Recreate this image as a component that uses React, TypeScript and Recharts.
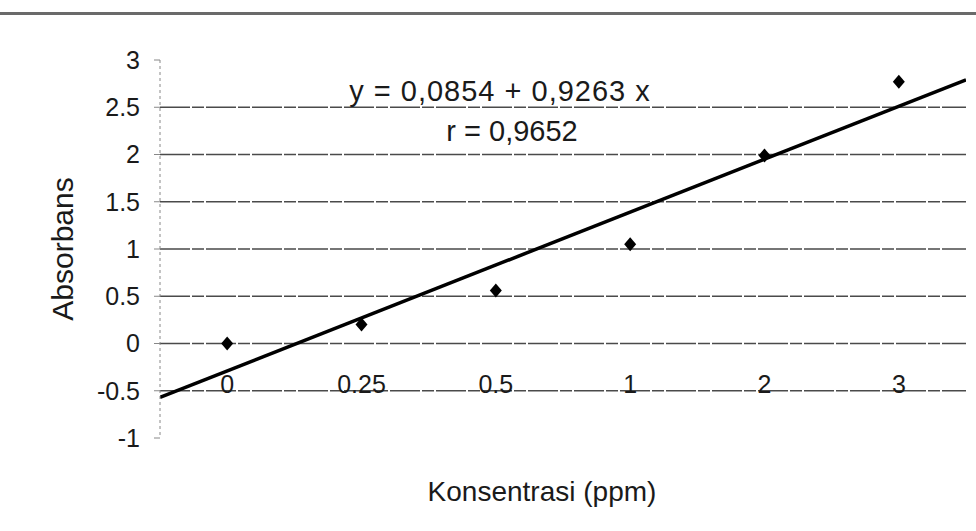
import React from 'react';
import { ComposedChart, Scatter, Line, XAxis, YAxis, CartesianGrid, Label } from 'recharts';

const concentrations = ['0', '0.25', '0.5', '1', '2', '3'];
const absorbance = [0, 0.2, 0.56, 1.05, 1.99, 2.77];
const trendX = [-0.5, 5.5];
const trendY = [-0.57, 2.79];
const yTicks = [-1, -0.5, 0, 0.5, 1, 1.5, 2, 2.5, 3];
const gridValues = [-0.5, 0, 0.5, 1, 1.5, 2, 2.5];

const points = absorbance.map((v, i) => ({ i, v }));
const trend = trendX.map((x, k) => ({ i: x, t: trendY[k] }));

const font = 'Arial, "Liberation Sans", Helvetica, sans-serif';

// small wide diamond like the Excel marker
const Diamond = (props: any) => {
  const { cx, cy } = props;
  if (cx == null || cy == null) return null;
  return <polygon points={`${cx},${cy - 7} ${cx + 6},${cy} ${cx},${cy + 7} ${cx - 6},${cy}`} fill="#000" />;
};

const App: React.FC = () => {
  return (
    <div style={{ position: 'fixed', left: 0, top: 0, width: 976, height: 531, background: '#fff', fontFamily: font }}>
      <div style={{ position: 'absolute', left: 0, top: 12, width: 976, borderTop: '3px solid #6a6a6a' }} />
      <ComposedChart width={976} height={531} margin={{ top: 60, right: 10, bottom: 0, left: 0 }}>
        <CartesianGrid horizontalValues={gridValues} vertical={false} stroke="#4a4a4a" strokeWidth={1.5} strokeDasharray="30 2 12 2" />
        <XAxis
          type="number"
          dataKey="i"
          domain={[-0.5, 5.5]}
          ticks={[0, 1, 2, 3, 4, 5]}
          tickFormatter={(v: number) => concentrations[v]}
          axisLine={false}
          tickLine={false}
          tickSize={0}
          tickMargin={0}
          height={93}
          tick={{ fill: '#1a1a1a', fontSize: 25, fontFamily: font, dy: -63 }}
          allowDataOverflow
        >
          <Label value="Konsentrasi (ppm)" position="insideBottom" offset={30} dx={-21} style={{ fill: '#1a1a1a', fontSize: 28, fontFamily: font }} />
        </XAxis>
        <YAxis
          type="number"
          domain={[-1, 3]}
          ticks={yTicks}
          width={160}
          axisLine={{ stroke: '#888', strokeDasharray: '3 3' }}
          tickLine={{ stroke: '#888' }}
          tickSize={6}
          tickMargin={14}
          tick={{ fill: '#1a1a1a', fontSize: 25, fontFamily: font }}
          allowDataOverflow
        >
          <Label value="Absorbans" angle={-90} position="insideLeft" offset={62} style={{ fill: '#1a1a1a', fontSize: 30, fontFamily: font, textAnchor: 'middle' }} />
        </YAxis>
        <Line data={trend} dataKey="t" type="linear" stroke="#000" strokeWidth={3.5} dot={false} isAnimationActive={false} />
        <Scatter data={points} dataKey="v" fill="#000" shape={Diamond} isAnimationActive={false} />
        <text x={500} y={101} textAnchor="middle" fontSize={29} fontFamily={font} fill="#1a1a1a" letterSpacing={1}>
          y = 0,0854 + 0,9263 x
        </text>
        <text x={512} y={141} textAnchor="middle" fontSize={29} fontFamily={font} fill="#1a1a1a">
          r = 0,9652
        </text>
      </ComposedChart>
    </div>
  );
};

export default App;
